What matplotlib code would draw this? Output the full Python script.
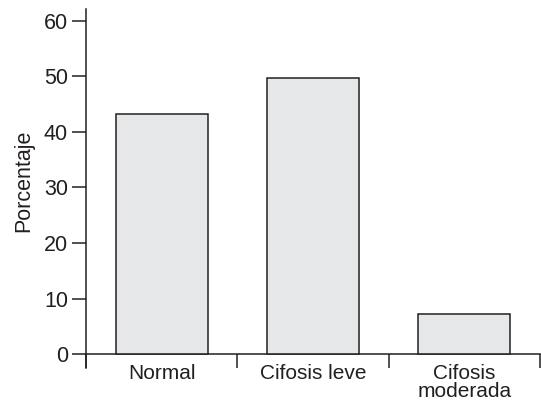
import matplotlib
matplotlib.use("Agg")
import matplotlib.pyplot as plt
import numpy as np

categories = ["Normal", "Cifosis leve", "Cifosis\nmoderada"]
values = [43.2, 49.6, 7.2]
yticks = [0, 10, 20, 30, 40, 50, 60]

ink = "#231f20"
fill = "#e6e7e8"

plt.rcParams['font.family'] = ['Liberation Sans', 'DejaVu Sans']

fig = plt.figure(figsize=(5.41, 4.03), dpi=100)
ax = fig.add_axes([86/541, 35/403, 454/541, 358.5/403])

x = np.arange(len(categories)) + 0.5
ax.bar(x, values, width=0.61, color=fill, edgecolor=ink, linewidth=1.1, zorder=3)

ax.set_xlim(0, len(categories))
ax.set_ylim(-2.5, 62.0)

ax.spines['top'].set_visible(False)
ax.spines['right'].set_visible(False)
ax.spines['bottom'].set_position(('data', 0))
for s in ['left', 'bottom']:
    ax.spines[s].set_color(ink)
    ax.spines[s].set_linewidth(1.1)

ax.set_yticks(yticks)
ax.set_yticklabels([str(v) for v in yticks])
ax.tick_params(axis='y', direction='out', length=10, width=1.1, color=ink,
               labelsize=15.5, labelcolor=ink, pad=3)

ax.set_xticks(np.arange(len(categories) + 1))
ax.set_xticklabels([])
ax.tick_params(axis='x', which='major', direction='out', length=10, width=1.1, color=ink)
ax.set_xticks(x, minor=True)
ax.set_xticklabels(categories, minor=True)
ax.tick_params(axis='x', which='minor', length=0, pad=7, labelsize=15,
               labelcolor=ink)
for lbl in ax.get_xticklabels(minor=True):
    lbl.set_linespacing(0.95)

ax.set_ylabel("Porcentaje", fontsize=15.5, color=ink)
ax.yaxis.set_label_coords(-0.115, 0.522)

fig.savefig("out.png", dpi=100)
